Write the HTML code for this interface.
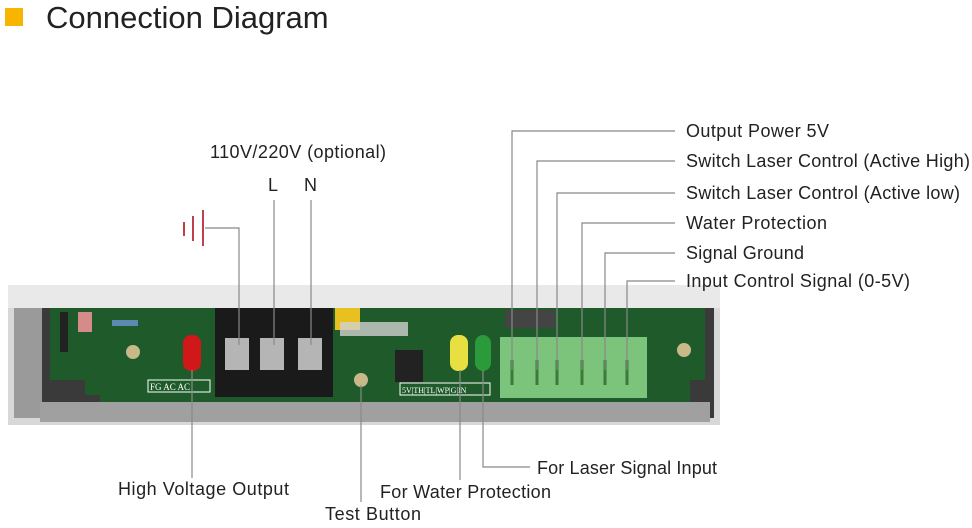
<!DOCTYPE html>
<html><head><style>
body{margin:0;width:972px;height:523px;background:#fff;overflow:hidden;font-family:"Liberation Sans",sans-serif;}
</style></head><body>
<svg width="972" height="523" viewBox="0 0 972 523" xmlns="http://www.w3.org/2000/svg" font-family="Liberation Sans, sans-serif">
<rect x="5" y="8" width="18" height="18" fill="#f7b500"/>
<text x="46" y="28" font-size="31" fill="#222">Connection Diagram</text>
<!-- housing -->
<rect x="8" y="285" width="712" height="140" fill="#d8d8d8"/>
<rect x="8" y="285" width="712" height="23" fill="#e9e9e9"/>
<rect x="14" y="308" width="700" height="110" fill="#3a3a3a"/>
<rect x="14" y="308" width="28" height="110" fill="#9a9a9a"/>
<rect x="40" y="402" width="670" height="20" fill="#a0a0a0"/>
<!-- PCB -->
<path d="M50 308 H705 V380 H690 V402 H100 V395 H85 V380 H50 Z" fill="#1f5a2a"/>
<rect x="60" y="312" width="8" height="40" fill="#222"/>
<rect x="78" y="312" width="14" height="20" fill="#d68b8b"/>
<rect x="112" y="320" width="26" height="6" fill="#5a8ab0"/>
<circle cx="133" cy="352" r="7" fill="#c9b98a"/>
<circle cx="684" cy="350" r="7" fill="#c9b98a"/>
<circle cx="361" cy="380" r="7" fill="#c9b98a"/>
<rect x="148" y="380" width="62" height="12" fill="none" stroke="#fff" stroke-width="1"/>
<text x="150" y="390" font-size="9" fill="#fff" font-family="Liberation Serif, serif">FG AC AC</text>
<!-- red LED -->
<rect x="183" y="335" width="18" height="36" rx="8" fill="#d01818"/>
<!-- terminal block -->
<rect x="215" y="308" width="118" height="89" fill="#1a1a1a"/>
<rect x="225" y="338" width="24" height="32" fill="#b5b5b5"/>
<rect x="260" y="338" width="24" height="32" fill="#b5b5b5"/>
<rect x="298" y="338" width="24" height="32" fill="#b5b5b5"/>
<!-- fuse -->
<rect x="335" y="308" width="25" height="22" fill="#e8c020"/>
<rect x="340" y="322" width="68" height="14" fill="#cfcfcf" opacity="0.8"/>
<rect x="395" y="350" width="28" height="32" fill="#222"/>
<rect x="400" y="383" width="90" height="12" fill="#1f5a2a" stroke="#fff" stroke-width="1"/>
<text x="402" y="393" font-size="8" fill="#fff" font-family="Liberation Serif, serif">5V|TH|TL|WP|G|IN</text>
<!-- LEDs -->
<rect x="450" y="335" width="18" height="36" rx="8" fill="#e8e040"/>
<rect x="475" y="335" width="16" height="36" rx="8" fill="#2a9a3a"/>
<rect x="505" y="310" width="50" height="18" fill="#444"/>
<!-- green connector -->
<rect x="500" y="337" width="147" height="61" fill="#7cc47c"/>
<g stroke="#3a7a3a" stroke-width="3"><line x1="512" y1="360" x2="512" y2="385"/><line x1="537" y1="360" x2="537" y2="385"/><line x1="557" y1="360" x2="557" y2="385"/><line x1="582" y1="360" x2="582" y2="385"/><line x1="605" y1="360" x2="605" y2="385"/><line x1="627" y1="360" x2="627" y2="385"/></g>
<!-- leader lines -->
<g stroke="#888" stroke-width="1.2" fill="none">
<path d="M205 228 H239 V345"/>
<line x1="274" y1="200" x2="274" y2="345"/>
<line x1="311" y1="200" x2="311" y2="345"/>
<path d="M675 131 H512 V370"/>
<path d="M675 161 H537 V370"/>
<path d="M675 193 H557 V370"/>
<path d="M675 223 H582 V370"/>
<path d="M675 253 H605 V370"/>
<path d="M675 281 H627 V370"/>
<line x1="192" y1="370" x2="192" y2="478"/>
<line x1="361" y1="385" x2="361" y2="502"/>
<line x1="460" y1="370" x2="460" y2="480"/>
<path d="M483 370 V467 H530"/>
</g>
<g stroke="#c0404a" stroke-width="2"><line x1="184" y1="222" x2="184" y2="236"/><line x1="193" y1="216" x2="193" y2="241"/><line x1="203" y1="210" x2="203" y2="246"/></g>
<g font-size="18" fill="#222">
<text x="210" y="158" textLength="176">110V/220V (optional)</text>
<text x="268" y="191">L</text>
<text x="304" y="191">N</text>
<text x="686" y="137" textLength="143">Output Power 5V</text>
<text x="686" y="167" textLength="284">Switch Laser Control (Active High)</text>
<text x="686" y="199" textLength="274">Switch Laser Control (Active low)</text>
<text x="686" y="229" textLength="141">Water Protection</text>
<text x="686" y="259" textLength="118">Signal Ground</text>
<text x="686" y="287" textLength="224">Input Control Signal (0-5V)</text>
<text x="537" y="474" textLength="180">For Laser Signal Input</text>
<text x="118" y="495" textLength="171">High Voltage Output</text>
<text x="380" y="498" textLength="171">For Water Protection</text>
<text x="325" y="520" textLength="96">Test Button</text>
</g>
</svg>
</body></html>
